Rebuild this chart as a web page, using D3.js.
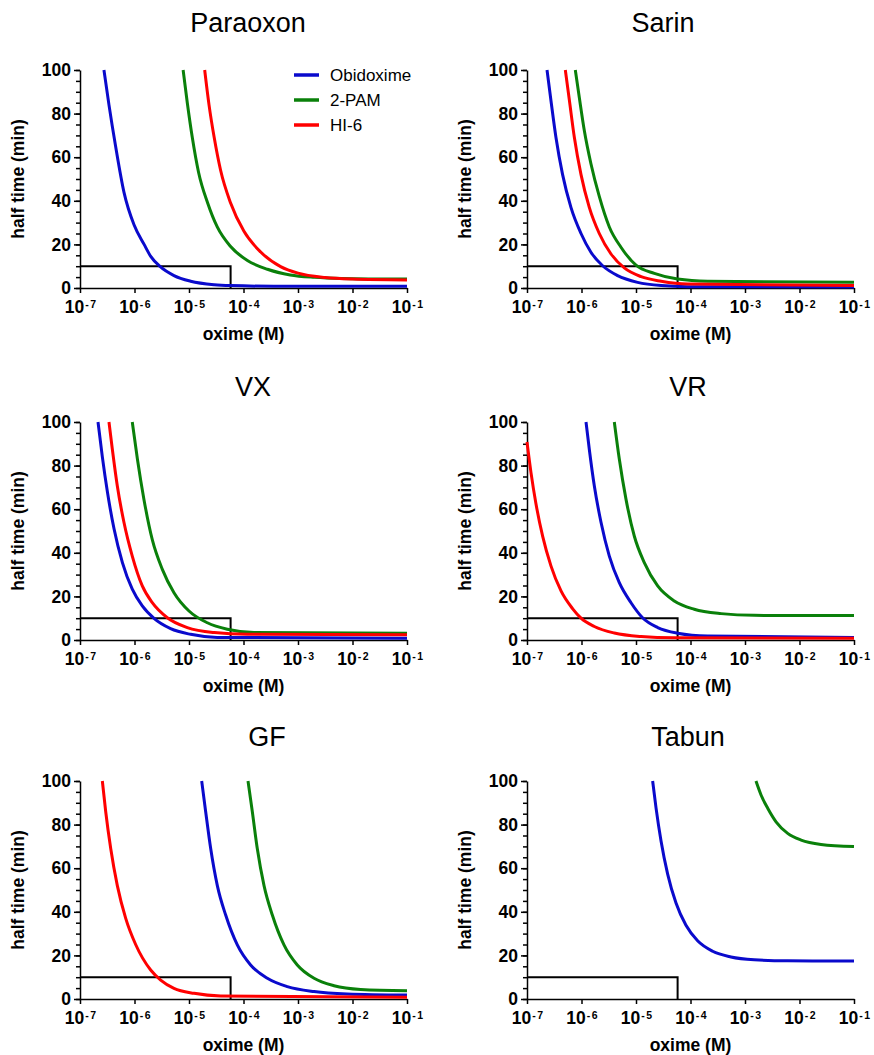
<!DOCTYPE html>
<html>
<head>
<meta charset="utf-8">
<script src="https://cdn.jsdelivr.net/npm/d3@7"></script>
<style>
body { margin: 0; background: #fff; }
text { font-family: Arial, "Liberation Sans", sans-serif; }
</style>
</head>
<body>
<div id="chart"></div>
<script>
// ---- data: [oxime concentration (M), half time (min)] ----
var oximes = ["Obidoxime", "2-PAM", "HI-6"];
var agents = ["Paraoxon", "Sarin", "VX", "VR", "GF", "Tabun"];
var xTicks = [1e-7, 1e-6, 1e-5, 1e-4, 1e-3, 1e-2, 1e-1];
var yTicks = [0, 20, 40, 60, 80, 100];
var refLevel = 10;      // half time threshold (min)
var refConc = 5.8e-5;   // oxime concentration marker (M)

var paraoxonObidoxime = [[2.75e-7,100],[3.4e-7,84],[4.5e-7,65],[6.4e-7,44],[9.8e-7,29],[1.5e-6,20],[2.0e-6,14.4],[2.9e-6,10],[5.3e-6,5.7],[1.07e-5,3.1],[2.9e-5,1.5],[5.8e-5,1.1],[3.6e-4,0.8],[1e-1,0.8]];
var paraoxon2PAM = [[7.8e-6,100],[9.3e-6,85],[1.15e-5,69],[1.5e-5,53],[2.2e-5,39],[3.3e-5,28],[5.8e-5,19],[1.2e-4,12.5],[2.75e-4,8.6],[7.2e-4,6.0],[2e-3,4.9],[6.3e-3,4.4],[1e-1,4.1]];
var paraoxonHI6 = [[1.94e-5,100],[2.33e-5,84],[2.9e-5,69],[3.8e-5,54],[5.8e-5,39],[1.02e-4,26],[2.07e-4,16.5],[4.8e-4,9.8],[1e-3,6.8],[3.16e-3,4.8],[1e-2,4.1],[1e-1,3.7]];

var sarinObidoxime = [[2.33e-7,100],[2.75e-7,86],[3.4e-7,69],[4.5e-7,52],[6.4e-7,37],[9.8e-7,25],[1.49e-6,16.4],[2.44e-6,10.2],[4.6e-6,5.7],[1.07e-5,2.6],[2.9e-5,1.1],[8.9e-5,0.6],[1e-1,0.5]];
var sarin2PAM = [[7.7e-7,100],[9.1e-7,87.5],[1.13e-6,72],[1.49e-6,57],[2.12e-6,42],[3.24e-6,28],[5.3e-6,18.7],[1e-5,10.5],[2.17e-5,6.7],[5.8e-5,4.1],[2.07e-4,3.1],[1e-1,2.6]];
var sarinHI6 = [[5.05e-7,100],[6e-7,86],[7.4e-7,69],[9.8e-7,52],[1.39e-6,37],[2.12e-6,25],[3.48e-6,15.6],[6.1e-6,9.2],[1.24e-5,5.2],[2.9e-5,3.1],[8.9e-5,1.8],[1e-1,1.2]];

var vxObidoxime = [[2.14e-7,100],[2.57e-7,84],[3.18e-7,68],[4.21e-7,51],[6e-7,35.5],[9.1e-7,23.3],[1.39e-6,15.6],[2.28e-6,9.9],[4.6e-6,5.2],[1.07e-5,2.6],[3.3e-5,1.2],[1e-1,0.8]];
var vx2PAM = [[9.1e-7,100],[1.13e-6,83],[1.49e-6,64.5],[2.12e-6,46],[3.24e-6,32.4],[5.3e-6,21.7],[1e-5,13.3],[2.17e-5,7.9],[5.05e-5,4.9],[1.56e-4,3.4],[1e-1,3.1]];
var vxHI6 = [[3.4e-7,100],[3.92e-7,87.5],[4.84e-7,70.6],[6.4e-7,54],[9.1e-7,38.5],[1.39e-6,24.8],[2.12e-6,17.1],[4.0e-6,10.2],[9.3e-6,5.7],[2.9e-5,3.4],[1.17e-4,2.6],[1e-1,2.4]];

var vrObidoxime = [[1.21e-6,100],[1.39e-6,87.5],[1.72e-6,70.6],[2.28e-6,54],[3.24e-6,38.5],[4.94e-6,26.3],[8.1e-6,17.1],[1.32e-5,10.2],[2.5e-5,5.7],[5.8e-5,3.1],[2.07e-4,1.8],[1e-1,1.2]];
var vr2PAM = [[4.0e-6,100],[4.94e-6,83],[6.56e-6,64.5],[9.3e-6,47.7],[1.42e-5,35.5],[2.5e-5,24.8],[5.05e-5,17.9],[1.17e-4,14.1],[3.63e-4,12.1],[1.48e-3,11.3],[1e-1,11.2]];
var vrHI6 = [[1e-7,90.8],[1.18e-7,77],[1.46e-7,62.5],[1.94e-7,47.5],[2.75e-7,34],[4.21e-7,22.5],[6.9e-7,14.3],[9.8e-7,10],[1.72e-6,6.2],[4.0e-6,3.2],[1.24e-5,1.6],[5.05e-5,1.0],[1e-1,0.8]];

var gfObidoxime = [[1.71e-5,100],[2.02e-5,86],[2.5e-5,69],[3.31e-5,52],[4.71e-5,38.5],[7.7e-5,24.8],[1.35e-4,15.6],[2.74e-4,9.5],[6.37e-4,5.7],[1.97e-3,3.4],[8e-3,2.3],[1e-1,1.8]];
var gf2PAM = [[1.21e-4,100],[1.45e-4,86],[1.79e-4,69],[2.38e-4,52],[3.38e-4,38.5],[5.53e-4,24.8],[9.7e-4,15.6],[1.97e-3,9.5],[4.58e-3,6.1],[1.41e-2,4.4],[1e-1,3.8]];
var gfHI6 = [[2.57e-7,100],[2.96e-7,86],[3.66e-7,69],[4.84e-7,52],[6.9e-7,37],[1.05e-6,25],[1.98e-6,13.3],[3.02e-6,8.7],[5.3e-6,4.9],[1.24e-5,2.6],[3.81e-5,1.4],[1e-1,0.8]];

var tabunObidoxime = [[2.02e-5,100],[2.33e-5,87.7],[2.88e-5,72.5],[3.81e-5,57.3],[5.42e-5,44],[8.26e-5,33.8],[1.35e-4,26.7],[2.55e-4,21.9],[5.53e-4,19.3],[1.48e-3,18],[6.07e-3,17.5],[1e-1,17.4]];
var tabun2PAM = [[1.59e-3,100],[1.97e-3,93.6],[2.61e-3,87.5],[3.71e-3,81.3],[6.07e-3,76],[1.07e-2,72.9],[2.48e-2,70.9],[1e-1,69.9]];
var tabunHI6 = [];

var seriesByAgent = [
  [paraoxonObidoxime, paraoxon2PAM, paraoxonHI6],
  [sarinObidoxime, sarin2PAM, sarinHI6],
  [vxObidoxime, vx2PAM, vxHI6],
  [vrObidoxime, vr2PAM, vrHI6],
  [gfObidoxime, gf2PAM, gfHI6],
  [tabunObidoxime, tabun2PAM, tabunHI6]
];

// ---- layout ----
var colors = ["#0a0acc", "#0a800a", "#ff0000"];
var drawOrder = [0, 1, 2];
var colX = [80, 527], rowY = [70, 422, 781];
var plotW = 327, plotH = 218;
var titleX = [248, 663, 253, 688, 267, 688];
var titleY = [32, 32, 396, 396, 746, 746];

var svg = d3.select("#chart").append("svg")
  .attr("width", 874)
  .attr("height", 1055);

var x = d3.scaleLog().domain([1e-7, 1e-1]).range([0, plotW]);
var y = d3.scaleLinear().domain([0, 100]).range([plotH, 0]);

var line = d3.line()
  .x(function(d) { return x(d[0]); })
  .y(function(d) { return y(d[1]); })
  .curve(d3.curveMonotoneX);

agents.forEach(function(agent, i) {
  var left = colX[i % 2], top = rowY[Math.floor(i / 2)];

  svg.append("text")
    .attr("x", titleX[i]).attr("y", titleY[i])
    .attr("text-anchor", "middle")
    .attr("font-size", 27)
    .text(agent);

  var g = svg.append("g").attr("transform", "translate(" + left + "," + top + ")");

  // minor y ticks
  g.append("g")
    .call(d3.axisLeft(y).tickValues(d3.range(0, 101, 5)).tickSize(4).tickFormat(""))
    .call(function(a) { a.select(".domain").remove(); })
    .selectAll("line").attr("stroke-width", 1.5);

  // y axis
  var ya = g.append("g")
    .call(d3.axisLeft(y).tickValues(yTicks).tickSize(6).tickSizeOuter(0).tickPadding(3));
  ya.selectAll("line, path").attr("stroke-width", 1.5);
  ya.selectAll("text")
    .attr("font-size", 17.5).attr("font-weight", "bold")
    .attr("font-family", "Arial, 'Liberation Sans', sans-serif").attr("fill", "#000");

  // x axis with 10^n labels
  var xa = g.append("g")
    .attr("transform", "translate(0," + plotH + ")")
    .call(d3.axisBottom(x).tickValues(xTicks).tickSize(5).tickSizeOuter(0).tickFormat(""));
  xa.selectAll("line, path").attr("stroke-width", 1.5);
  xa.selectAll(".tick text")
    .attr("y", 25).attr("dy", 0)
    .attr("font-size", 17.5).attr("font-weight", "bold")
    .attr("font-family", "Arial, 'Liberation Sans', sans-serif").attr("fill", "#000")
    .each(function(d) {
      var t = d3.select(this);
      var e = Math.round(Math.log10(d));
      t.append("tspan").text("10");
      t.append("tspan").attr("dy", -5).attr("dx", 1).attr("font-size", 10.5).text("-");
      t.append("tspan").attr("dx", 1.5).attr("font-size", 10.5).text(Math.abs(e));
    });

  // axis titles
  g.append("text")
    .attr("x", plotW / 2).attr("y", plotH + 52)
    .attr("text-anchor", "middle")
    .attr("font-size", 17.5).attr("font-weight", "bold")
    .text("oxime (M)");
  g.append("text")
    .attr("transform", "translate(-56," + (plotH / 2) + ") rotate(-90)")
    .attr("text-anchor", "middle")
    .attr("font-size", 17.5).attr("font-weight", "bold")
    .text("half time (min)");

  // reference box
  g.append("path")
    .attr("fill", "none").attr("stroke", "#000").attr("stroke-width", 2)
    .attr("d", d3.line()([[x(1e-7), y(refLevel)], [x(refConc), y(refLevel)], [x(refConc), y(0)]]));

  // curves
  drawOrder.forEach(function(k) {
    var s = seriesByAgent[i][k];
    if (!s.length) return;
    g.append("path")
      .datum(s)
      .attr("fill", "none")
      .attr("stroke", colors[k])
      .attr("stroke-width", 3)
      .attr("d", line);
  });

  // legend only in the first panel
  if (i === 0) {
    var lg = g.append("g").attr("transform", "translate(214,5)");
    oximes.forEach(function(name, k) {
      lg.append("line")
        .attr("x1", 0).attr("x2", 25)
        .attr("y1", k * 25).attr("y2", k * 25)
        .attr("stroke", colors[k]).attr("stroke-width", 3.5);
      lg.append("text")
        .attr("x", 36).attr("y", k * 25)
        .attr("dy", "0.36em")
        .attr("font-size", 17)
        .text(name);
    });
  }
});
</script>
</body>
</html>
